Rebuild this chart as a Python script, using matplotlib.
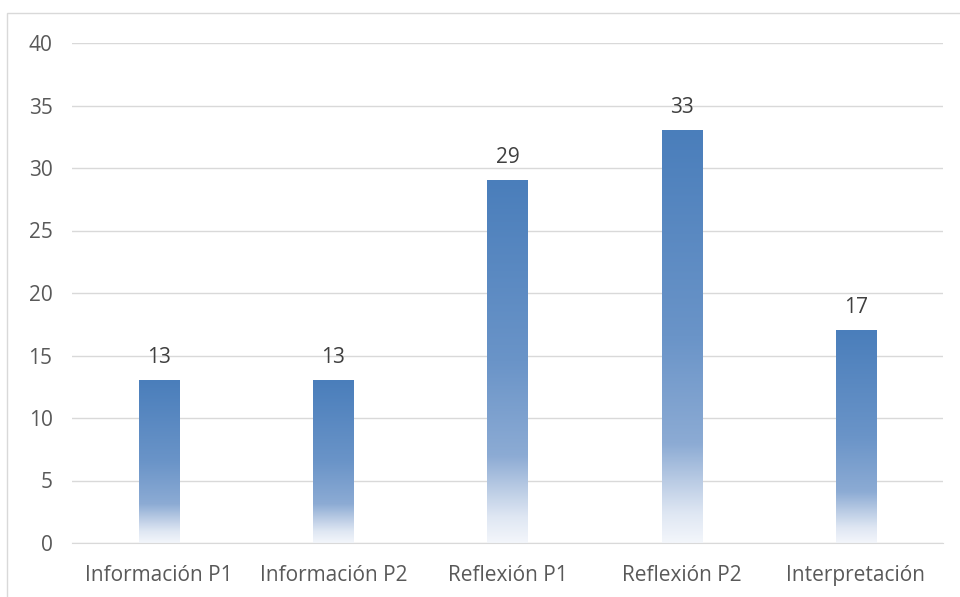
import numpy as np
import matplotlib.pyplot as plt
from matplotlib.colors import LinearSegmentedColormap
from matplotlib.patches import Rectangle

categories = ["Información P1", "Información P2", "Reflexión P1", "Reflexión P2", "Interpretación"]
values = [13, 13, 29, 33, 17]

plt.rcParams['font.family'] = ['Open Sans', 'DejaVu Sans']

# gradient from top (0) to bottom (1) of each bar
cmap = LinearSegmentedColormap.from_list("bar_grad", [
    (0.0, "#4a7ebb"),
    (0.5, "#6a94c8"),
    (0.76, "#8cabd4"),
    (0.85, "#b9cbe4"),
    (0.93, "#dfe7f3"),
    (1.0, "#f3f6fb"),
])

fig = plt.figure(figsize=(9.6, 5.97), dpi=100)
ax = fig.add_axes([72 / 960, 1 - 543 / 597, 871 / 960, 500 / 597])

x = np.arange(len(categories))
width = 0.23
grad = np.linspace(0, 1, 256).reshape(-1, 1)
for xi, v in zip(x, values):
    ax.imshow(grad, cmap=cmap, aspect="auto", extent=(xi - width / 2, xi + width / 2, 0, v),
              origin="upper", zorder=2, interpolation="bilinear")
    ax.text(xi, v + 1.0, str(v), ha="center", va="bottom", fontsize=15, color="#404040")

ax.set_xlim(-0.5, len(categories) - 0.5)
ax.set_ylim(0, 40)
ax.set_yticks(range(0, 41, 5))
ax.set_xticks(x)
ax.set_xticklabels(categories)
ax.grid(axis="y", color="#d9d9d9", linewidth=1, zorder=0)
ax.set_axisbelow(True)
for s in ["top", "right", "left"]:
    ax.spines[s].set_visible(False)
ax.spines["bottom"].set_color("#d9d9d9")
ax.tick_params(axis="both", length=0, labelsize=15, labelcolor="#595959")
ax.tick_params(axis="y", pad=14)
ax.tick_params(axis="x", pad=16)

# outer chart frame
fig.patches.append(Rectangle((7 / 960, -0.1), 2, 1 - 13 / 597 + 0.1, transform=fig.transFigure,
                             fill=False, edgecolor="#d9d9d9", linewidth=1))

fig.savefig("out.png", dpi=100)
